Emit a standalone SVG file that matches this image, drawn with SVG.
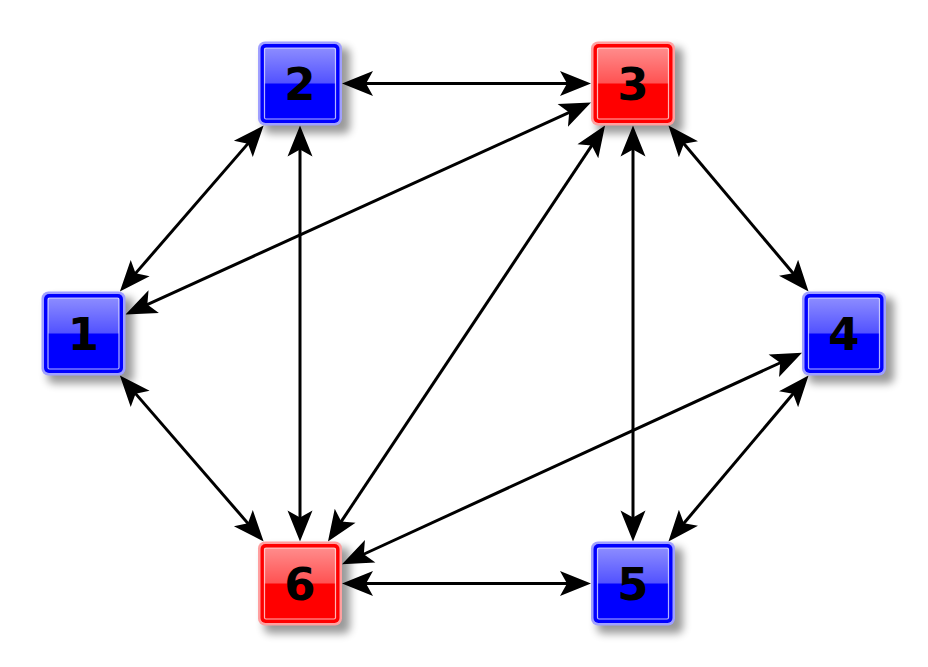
<svg xmlns="http://www.w3.org/2000/svg" width="928" height="667" viewBox="0 0 928 667">
<defs>
<filter id="sh" x="-30%" y="-30%" width="160%" height="160%"><feGaussianBlur stdDeviation="4.5"/></filter>
<linearGradient id="gloss" x1="0" y1="0" x2="0" y2="1"><stop offset="0" stop-color="#fff" stop-opacity="0.55"/><stop offset="1" stop-color="#fff" stop-opacity="0.32"/></linearGradient>
<marker id="ah" markerUnits="userSpaceOnUse" markerWidth="40" markerHeight="30" refX="0" refY="0" orient="auto-start-reverse" overflow="visible"><path d="M22,0 L-9,-12.5 L-2,0 L-9,12.5 Z" fill="#000"/></marker>
<g id="box">
<rect x="-36" y="-36" width="86" height="86" rx="6" fill="#000" opacity="0.4" filter="url(#sh)"/>
</g>
</defs>
<style>
.e{stroke:#000;stroke-width:3;fill:none;marker-start:url(#ah);marker-end:url(#ah)}
.outB{fill:#a0a0ff}.inB{fill:#0000ff}
.outR{fill:#ffa0a0}.inR{fill:#ff0000}
.gl{fill:url(#gloss)}
.hl{fill:none;stroke:#fff;stroke-opacity:0.7;stroke-width:1.2}
.t{font-family:"DejaVu Sans",sans-serif;font-weight:bold;font-size:45px;text-anchor:middle;fill:#000}
</style>
<g id="connectors">
<line class="e" x1="134.27" y1="274.87" x2="249.23" y2="142.13"/>
<line class="e" x1="145.52" y1="305.28" x2="570.98" y2="111.72"/>
<line class="e" x1="134.27" y1="392.13" x2="249.23" y2="524.87"/>
<line class="e" x1="364" y1="83.5" x2="569" y2="83.5"/>
<line class="e" x1="300" y1="147.5" x2="300" y2="519.5"/>
<line class="e" x1="682.64" y1="142.31" x2="794.36" y2="274.69"/>
<line class="e" x1="633" y1="147.5" x2="633" y2="519.5"/>
<line class="e" x1="592.84" y1="143.81" x2="340.16" y2="523.19"/>
<line class="e" x1="794.36" y1="392.31" x2="682.64" y2="524.69"/>
<line class="e" x1="782.01" y1="361.99" x2="361.99" y2="555.01"/>
<line class="e" x1="364" y1="583.5" x2="569" y2="583.5"/>
</g>
<g id="node1" transform="translate(83.5,333.5)">
<use href="#box"/>
<rect class="outB" x="-42" y="-42" width="84" height="84" rx="7"/>
<rect class="inB" x="-39.5" y="-39.5" width="79" height="79" rx="5"/>
<rect class="gl" x="-35.5" y="-35.5" width="71" height="35.5"/>
<rect class="hl" x="-35.5" y="-35.5" width="71" height="71" rx="1.5"/>
<text class="t" x="0" y="16">1</text>
</g>
<g id="node2" transform="translate(300,83.5)">
<use href="#box"/>
<rect class="outB" x="-42" y="-42" width="84" height="84" rx="7"/>
<rect class="inB" x="-39.5" y="-39.5" width="79" height="79" rx="5"/>
<rect class="gl" x="-35.5" y="-35.5" width="71" height="35.5"/>
<rect class="hl" x="-35.5" y="-35.5" width="71" height="71" rx="1.5"/>
<text class="t" x="0" y="16">2</text>
</g>
<g id="node3" transform="translate(633,83.5)">
<use href="#box"/>
<rect class="outR" x="-42" y="-42" width="84" height="84" rx="7"/>
<rect class="inR" x="-39.5" y="-39.5" width="79" height="79" rx="5"/>
<rect class="gl" x="-35.5" y="-35.5" width="71" height="35.5"/>
<rect class="hl" x="-35.5" y="-35.5" width="71" height="71" rx="1.5"/>
<text class="t" x="0" y="16">3</text>
</g>
<g id="node4" transform="translate(844,333.5)">
<use href="#box"/>
<rect class="outB" x="-42" y="-42" width="84" height="84" rx="7"/>
<rect class="inB" x="-39.5" y="-39.5" width="79" height="79" rx="5"/>
<rect class="gl" x="-35.5" y="-35.5" width="71" height="35.5"/>
<rect class="hl" x="-35.5" y="-35.5" width="71" height="71" rx="1.5"/>
<text class="t" x="0" y="16">4</text>
</g>
<g id="node5" transform="translate(633,583.5)">
<use href="#box"/>
<rect class="outB" x="-42" y="-42" width="84" height="84" rx="7"/>
<rect class="inB" x="-39.5" y="-39.5" width="79" height="79" rx="5"/>
<rect class="gl" x="-35.5" y="-35.5" width="71" height="35.5"/>
<rect class="hl" x="-35.5" y="-35.5" width="71" height="71" rx="1.5"/>
<text class="t" x="0" y="16">5</text>
</g>
<g id="node6" transform="translate(300,583.5)">
<use href="#box"/>
<rect class="outR" x="-42" y="-42" width="84" height="84" rx="7"/>
<rect class="inR" x="-39.5" y="-39.5" width="79" height="79" rx="5"/>
<rect class="gl" x="-35.5" y="-35.5" width="71" height="35.5"/>
<rect class="hl" x="-35.5" y="-35.5" width="71" height="71" rx="1.5"/>
<text class="t" x="0" y="16">6</text>
</g>
</svg>
